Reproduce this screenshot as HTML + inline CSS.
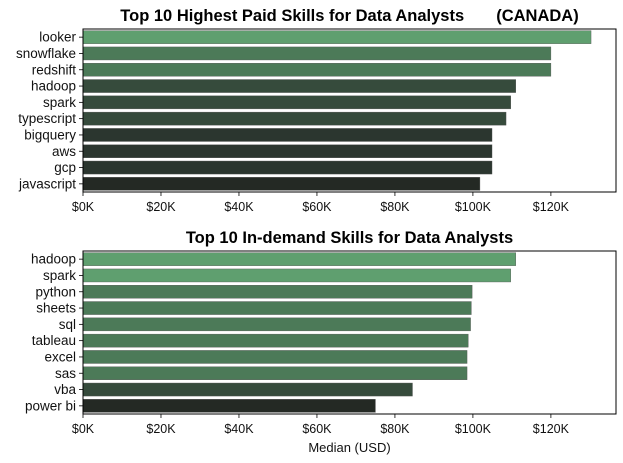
<!DOCTYPE html>
<html><head><meta charset="utf-8"><style>
body{margin:0;background:#fff;}
svg{display:block;font-family:"Liberation Sans",Arial,sans-serif;}
</style></head><body>
<svg id="c" width="623" height="463"></svg>
<script>
const topSkills=["looker","snowflake","redshift","hadoop","spark","typescript","bigquery","aws","gcp","javascript"];
const topValues=[130.3,120,120,111,109.7,108.5,104.9,104.9,104.9,101.8];
const topColors=["#5f9f6f","#4c7a58","#4c7a58","#364b3c","#364b3c","#364b3c","#2b362f","#2b362f","#2b362f","#242924"];
const demSkills=["hadoop","spark","python","sheets","sql","tableau","excel","sas","vba","power bi"];
const demValues=[111,109.7,99.8,99.6,99.4,98.8,98.5,98.5,84.5,75];
const demColors=["#5f9f6f","#5f9f6f","#4c7a58","#4c7a58","#4c7a58","#4c7a58","#4c7a58","#4c7a58","#364b3c","#242924"];
const tickVals=[0,20,40,60,80,100,120];
const tickLabels=["$0K","$20K","$40K","$60K","$80K","$100K","$120K"];
const xMax=136.7;
const NS="http://www.w3.org/2000/svg";
const svg=document.getElementById('c');
function mk(t,a,p){const e=document.createElementNS(NS,t);for(const k in a)e.setAttribute(k,a[k]);(p||svg).appendChild(e);return e;}
function panel(id,title,skills,vals,cols,top,bottom,xlabel){
  const L=83,R=616;
  const x=v=>L+v/xMax*(R-L);
  const g=mk('g',{});
  
  
  const band=(bottom-top)/skills.length;
  skills.forEach((s,i)=>{
    const y=top+band*i+band*0.1;
    const r=mk('rect',{x:L,y:y,width:x(vals[i])-L,height:band*0.8,fill:cols[i],stroke:"#555",'stroke-width':0.4},g);
    
    
    mk('line',{x1:L-4,x2:L,y1:top+band*(i+0.5),y2:top+band*(i+0.5),stroke:"#000",'stroke-width':0.8},g);
    const t=mk('text',{x:L-7,y:top+band*(i+0.5)+4.5,'text-anchor':'end','font-size':13.5,fill:'#111'},g);
    t.textContent=s;
    
    
  });
  tickVals.forEach((v,i)=>{
    mk('line',{x1:x(v),x2:x(v),y1:bottom,y2:bottom+4,stroke:"#000",'stroke-width':0.8},g);
    const t=mk('text',{x:x(v),y:bottom+19,'text-anchor':'middle','font-size':12.5,fill:'#111'},g);
    t.textContent=tickLabels[i];
    
    
  });
  const f=mk('rect',{x:L,y:top,width:R-L,height:bottom-top,fill:'none',stroke:'#000','stroke-width':1},g);
  
  
  const tt=mk('text',{x:(L+R)/2,y:top-8,'text-anchor':'middle','font-size':16.5,'font-weight':'bold',fill:'#000'},g);
  tt.textContent=title;
  
  
  if(xlabel){
    const xl=mk('text',{x:(L+R)/2,y:bottom+38,'text-anchor':'middle','font-size':13,fill:'#111'},g);
    xl.textContent=xlabel;
    
    
  }
}
panel('top-paid-panel','Top 10 Highest Paid Skills for Data Analysts\u00a0\u00a0\u00a0\u00a0\u00a0\u00a0\u00a0(CANADA)',topSkills,topValues,topColors,29,192,null);
panel('in-demand-panel','Top 10 In-demand Skills for Data Analysts',demSkills,demValues,demColors,251,414,'Median (USD)');
</script>
</body></html>
